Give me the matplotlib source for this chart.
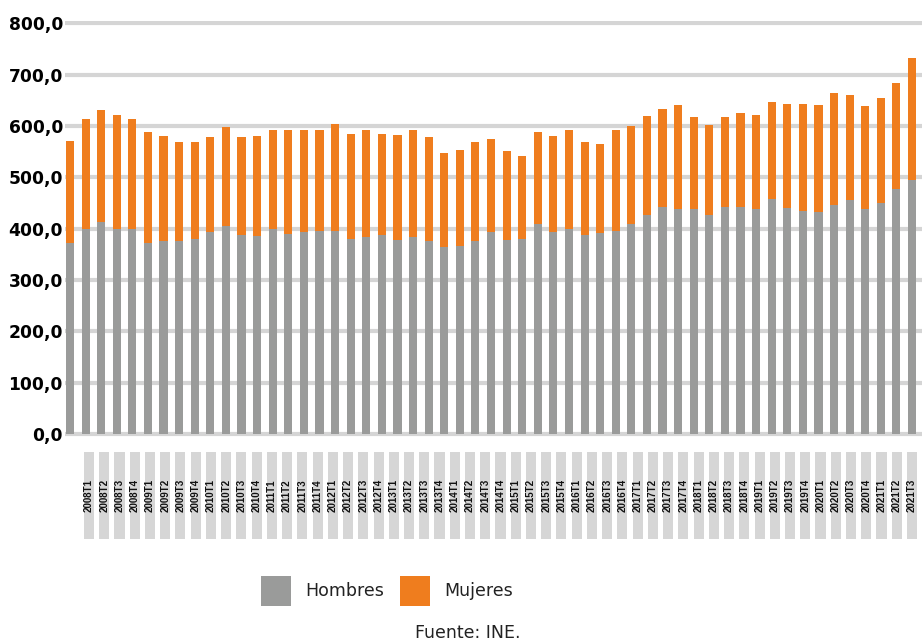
import numpy as np
import matplotlib.pyplot as plt
from matplotlib.patches import Rectangle

# Trimestres 2008T1 .. 2021T3
periodos = [f"{a}T{t}" for a in range(2008, 2022) for t in range(1, 5)][:55]

hombres = [372.7, 399.4, 413.6, 399.4, 399.4, 372.7, 375.3, 375.3, 379.2, 394.2,
           405.8, 387.7, 386.4, 399.4, 390.3, 394.2, 395.5, 395.5, 379.9, 383.8,
           387.7, 378.6, 383.8, 376.0, 364.3, 366.9, 376.0, 394.2, 378.6, 379.9,
           409.7, 394.2, 399.4, 387.7, 391.6, 395.5, 409.7, 426.6, 442.2, 438.3,
           438.3, 426.6, 442.2, 442.2, 438.3, 457.8, 440.9, 434.4, 433.1, 446.1,
           456.5, 438.3, 450.0, 477.3, 495.5]
total = [571.4, 613.6, 631.2, 621.4, 613.6, 588.3, 580.5, 568.8, 568.8, 578.6,
         598.1, 578.6, 580.5, 592.2, 592.2, 592.2, 592.2, 603.9, 584.4, 592.2,
         584.4, 582.5, 592.2, 578.6, 547.4, 553.2, 568.8, 574.7, 551.3, 541.6,
         588.3, 580.5, 592.2, 568.8, 564.9, 592.2, 600.0, 619.5, 633.1, 640.9,
         617.5, 601.9, 617.5, 625.3, 621.4, 646.8, 642.9, 642.9, 640.9, 664.3,
         660.4, 639.0, 654.5, 683.8, 732.5]
mujeres = [round(t - h, 1) for t, h in zip(total, hombres)]

GRIS = "#9a9b9a"
NARANJA = "#ef7d1e"
REJILLA = "#d5d5d5"

W, H = 922, 642
fig = plt.figure(figsize=(W / 100, H / 100), dpi=100)

# eje principal (en pixeles de la figura)
x0, x1 = 65, 922
y_top, y_bot = 20.7, 436.6
ax = fig.add_axes([x0 / W, 1 - y_bot / H, (x1 - x0) / W, (y_bot - y_top) / H])

x = np.arange(len(periodos))
ax.bar(x, hombres, width=0.52, color=GRIS, zorder=2)
ax.bar(x, mujeres, width=0.52, bottom=hombres, color=NARANJA, zorder=2)

ax.set_ylim(-5, 805)
ax.set_xlim(-0.32, 54.64)
ax.set_yticks(np.arange(0, 801, 100))
ax.set_yticklabels([f"{v:.1f}".replace(".", ",") for v in np.arange(0, 801, 100)],
                   fontsize=12.3, fontweight="bold", family="DejaVu Sans")
ax.tick_params(axis="y", length=0, pad=1.5)
ax.set_xticks([])
ax.grid(axis="y", color=REJILLA, linewidth=3.0, zorder=0)
for s in ax.spines.values():
    s.set_visible(False)

# tabla de etiquetas de periodo
lab = fig.add_axes([0, 0, 1, 1])
lab.set_xlim(-89 / 15.24, (W - 89) / 15.24)
lab.set_ylim(H, 0)
lab.axis("off")
for i, p in enumerate(periodos):
    lab.add_patch(Rectangle((i - 0.33, 452), 0.66, 87, color="#d6d6d6", lw=0))
    lab.text(i, 512, p, rotation=90, ha="center", va="bottom", fontsize=7,
             fontweight="bold", family="Liberation Sans", color="#111111")

# leyenda
lab.add_patch(Rectangle(((261 - 89) / 15.24, 576), 30 / 15.24, 30, color=GRIS, lw=0))
lab.add_patch(Rectangle(((400 - 89) / 15.24, 576), 30 / 15.24, 30, color=NARANJA, lw=0))
lab.text((305 - 89) / 15.24, 591, "Hombres", va="center", ha="left", fontsize=12.5,
         color="#222222")
lab.text((444 - 89) / 15.24, 591, "Mujeres", va="center", ha="left", fontsize=12.5,
         color="#222222")
lab.text((468 - 89) / 15.24, 633, "Fuente: INE.", va="center", ha="center",
         fontsize=12.5, color="#222222")

fig.savefig("out.png", dpi=100)
